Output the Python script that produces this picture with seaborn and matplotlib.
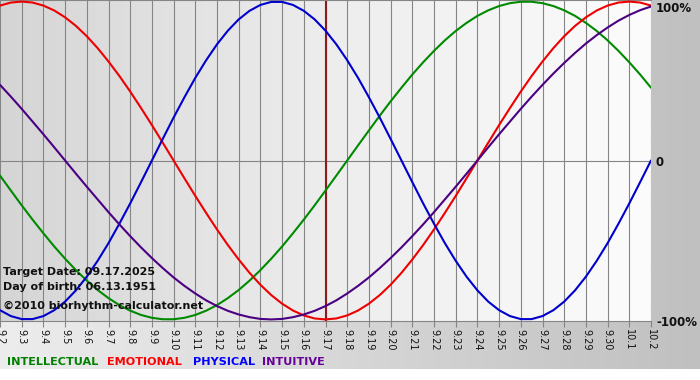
import numpy as np
import pandas as pd
import matplotlib
matplotlib.use("Agg")
import matplotlib.pyplot as plt
from matplotlib.colors import LinearSegmentedColormap
import seaborn as sns

days = ["9.2", "9.3", "9.4", "9.5", "9.6", "9.7", "9.8", "9.9", "9.10", "9.11",
        "9.12", "9.13", "9.14", "9.15", "9.16", "9.17", "9.18", "9.19", "9.20",
        "9.21", "9.22", "9.23", "9.24", "9.25", "9.26", "9.27", "9.28", "9.29",
        "9.30", "10.1", "10.2"]
intellectual = [-0.095, -0.189, -0.282, -0.372, -0.458, -0.541, -0.618, -0.690,
                -0.756, -0.815, -0.866, -0.910, -0.945, -0.972, -0.990, -0.999,
                -0.999, -0.990, -0.972, -0.945, -0.910, -0.866, -0.815, -0.756,
                -0.690, -0.618, -0.541, -0.458, -0.372, -0.282, -0.189, -0.095,
                0.000, 0.095, 0.189, 0.282, 0.372, 0.458, 0.541, 0.618, 0.690,
                0.756, 0.815, 0.866, 0.910, 0.945, 0.972, 0.990, 0.999, 0.999,
                0.990, 0.972, 0.945, 0.910, 0.866, 0.815, 0.756, 0.690, 0.618,
                0.541, 0.458]
emotional = [0.975, 0.994, 1.000, 0.994, 0.975, 0.944, 0.901, 0.847, 0.782, 0.707,
             0.623, 0.532, 0.434, 0.330, 0.223, 0.112, 0.000,
             -0.112, -0.223, -0.330, -0.434, -0.532, -0.623, -0.707, -0.782,
             -0.847, -0.901, -0.944, -0.975, -0.994, -1.000,
             -0.994, -0.975, -0.944, -0.901, -0.847, -0.782, -0.707, -0.623,
             -0.532, -0.434, -0.330, -0.223, -0.112, 0.000,
             0.112, 0.223, 0.330, 0.434, 0.532, 0.623, 0.707, 0.782, 0.847,
             0.901, 0.944, 0.975, 0.994, 1.000, 0.994, 0.975]
physical = [-0.942, -0.979, -0.998, -0.998, -0.979, -0.942, -0.888, -0.817, -0.731,
            -0.631, -0.520, -0.398, -0.270, -0.136, 0.000, 0.136, 0.270, 0.398,
            0.520, 0.631, 0.731, 0.817, 0.888, 0.942, 0.979, 0.998, 0.998, 0.979,
            0.942, 0.888, 0.817, 0.731, 0.631, 0.520, 0.398, 0.270, 0.136, 0.000,
            -0.136, -0.270, -0.398, -0.520, -0.631, -0.731, -0.817, -0.888,
            -0.942, -0.979, -0.998, -0.998, -0.979, -0.942, -0.888, -0.817,
            -0.731, -0.631, -0.520, -0.398, -0.270, -0.136, 0.000]
intuitive = [0.476, 0.402, 0.325, 0.245, 0.165, 0.083, 0.000,
             -0.083, -0.165, -0.245, -0.325, -0.402, -0.476, -0.547, -0.614,
             -0.677, -0.736, -0.789, -0.837, -0.880, -0.916, -0.946, -0.969,
             -0.986, -0.997, -1.000, -0.997, -0.986, -0.969, -0.946, -0.916,
             -0.880, -0.837, -0.789, -0.736, -0.677, -0.614, -0.547, -0.476,
             -0.402, -0.325, -0.245, -0.165, -0.083,
             0.000, 0.083, 0.165, 0.245, 0.325, 0.402, 0.476, 0.547, 0.614,
             0.677, 0.736, 0.789, 0.837, 0.880, 0.916, 0.946, 0.969]
series_names = ["INTELLECTUAL", "EMOTIONAL", "PHYSICAL", "INTUITIVE"]
target_day = "9.17"
info_lines = ["Target Date: 09.17.2025", "Day of birth: 06.13.1951",
              "\u00a92010 biorhythm-calculator.net"]
y_labels = ["100%", "0", "-100%"]

colors = {"INTELLECTUAL": "#008a00", "EMOTIONAL": "#ee0000",
          "PHYSICAL": "#0000cc", "INTUITIVE": "#4b0082"}
legend_colors = {"INTELLECTUAL": "#008000", "EMOTIONAL": "#ff0000",
                 "PHYSICAL": "#0000ff", "INTUITIVE": "#660099"}

n = len(days)
m = len(physical)
xs = np.arange(m) * (n - 1) / (m - 1)  # sample positions in day units
df = pd.DataFrame({
    "day": np.tile(xs, 4),
    "value": intellectual + emotional + physical + intuitive,
    "series": sum([[s] * m for s in series_names], []),
})

sns.set_style("white")
plt.rcParams["font.family"] = ["DejaVu Sans"]

W, H = 700, 380
fig = plt.figure(figsize=(7, 3.8), dpi=100)
fig.patch.set_facecolor("white")

# background axes (pixel coords)
bg = fig.add_axes([0, 0, 1, 1], zorder=-10)
bg.set_xlim(0, W)
bg.set_ylim(H, 0)
bg.axis("off")
band_cmap = LinearSegmentedColormap.from_list("band", ["#ededed", "#c0c0c0"])
bg.imshow(np.linspace(0, 1, 256).reshape(1, -1), cmap=band_cmap,
          extent=(0, W, 369, 0), aspect="auto", zorder=0)

# main axes
plot_right = 651
plot_bottom = 321
ax = fig.add_axes([0, 1 - plot_bottom / H, plot_right / W, plot_bottom / H])
ax.set_xlim(0, n - 1)
ax.set_ylim(-1.01, 1.01)
grad = LinearSegmentedColormap.from_list("pa", ["#d5d5d5", "#ededed", "#fcfcfc"])
ax.imshow(np.linspace(0, 1, 256).reshape(1, -1), cmap=grad,
          extent=(0, n - 1, -1.01, 1.01), aspect="auto", zorder=0)

for x in range(n):
    ax.axvline(x, color="#858585", lw=0.8, zorder=1)
ax.axhline(0, color="#858585", lw=0.8, zorder=1)

ti = days.index(target_day)
ax.axvline(ti, color="#8b1c1c", lw=1.5, zorder=2)

sns.lineplot(data=df, x="day", y="value", hue="series", palette=colors,
             hue_order=series_names, lw=1.5, legend=False, ax=ax, zorder=3)

ax.set_xlabel("")
ax.set_ylabel("")
ax.set_xticks(range(n))
ax.set_xticklabels(days, rotation=270, fontsize=7, color="#111111")
ax.tick_params(axis="x", direction="out", length=4, width=0.8, color="#858585", pad=2,
               bottom=True)
ax.set_yticks([])
for s in ["left", "right"]:
    ax.spines[s].set_visible(False)
for s in ["top", "bottom"]:
    ax.spines[s].set_color("#858585")
    ax.spines[s].set_linewidth(0.8)

# right-side labels
fig.text(656 / W, 1 - 8 / H, y_labels[0], fontsize=8.5, fontweight="bold",
         color="#111111", ha="left", va="center")
fig.text(656 / W, 1 - 162 / H, y_labels[1], fontsize=8.5, fontweight="bold",
         color="#111111", ha="left", va="center")
fig.text(656 / W, 1 - 322 / H, y_labels[2], fontsize=8.5, fontweight="bold",
         color="#111111", ha="left", va="center")

# info text
for txt, yp in zip(info_lines, [272, 287, 306]):
    ax.text(3 / plot_right, 1 - yp / plot_bottom, txt, transform=ax.transAxes,
            fontsize=8, fontweight="bold", color="#111111", ha="left",
            va="center", zorder=5)

# colored legend words
for name, xp in zip(series_names, [7, 107, 193, 262]):
    fig.text(xp / W, 1 - 362 / H, name, fontsize=8.1, fontweight="bold",
             color=legend_colors[name], ha="left", va="center")

fig.savefig("out.png", dpi=100)
